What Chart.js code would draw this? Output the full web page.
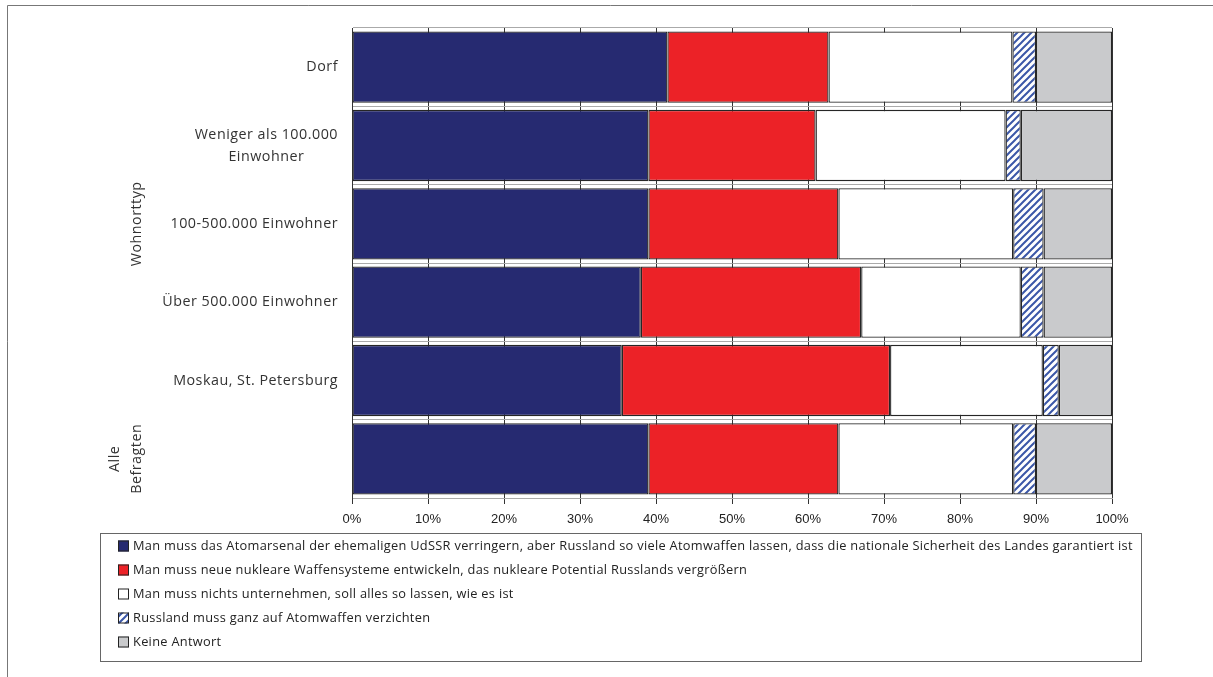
<!DOCTYPE html>
<html><head><meta charset="utf-8">
<script src="https://cdn.jsdelivr.net/npm/chart.js@4"></script>
<style>html,body{margin:0;padding:0;background:#fff}#wrap{position:relative;width:1213px;height:677px}</style>
</head><body><div id="wrap"><canvas id="c" width="1213" height="677"></canvas></div>
<script>
// ---- data ----
const categories = ['Dorf', ['Weniger als 100.000', 'Einwohner'], '100-500.000 Einwohner', 'Über 500.000 Einwohner', 'Moskau, St. Petersburg', ''];
const groupNames = [['Wohnorttyp'], ['Alle', 'Befragten']];
const groupFirst = [0, 5];
const groupLast = [4, 5];
const seriesNames = [
  'Man muss das Atomarsenal der ehemaligen UdSSR verringern, aber Russland so viele Atomwaffen lassen, dass die nationale Sicherheit des Landes garantiert ist',
  'Man muss neue nukleare Waffensysteme entwickeln, das nukleare Potential Russlands vergrößern',
  'Man muss nichts unternehmen, soll alles so lassen, wie es ist',
  'Russland muss ganz auf Atomwaffen verzichten',
  'Keine Antwort'
];
const verringern   = [41.5, 39, 39, 38, 35.5, 39];
const entwickeln   = [21.2, 22, 25, 29, 35.3, 25];
const nichts       = [24.2, 25, 23, 21, 20.1, 23];
const verzichten   = [3.1, 2, 4, 3, 2.1, 3];
const keineAntwort = [10, 12, 9, 9, 7, 10];
const xTickValues  = [0, 10, 20, 30, 40, 50, 60, 70, 80, 90, 100];

// ---- styles ----
function hatch() {
  const s = 7, c = document.createElement('canvas');
  c.width = c.height = s;
  const g = c.getContext('2d');
  g.fillStyle = '#fff'; g.fillRect(0, 0, s, s);
  g.strokeStyle = '#3b57a8'; g.lineWidth = 2;
  g.beginPath();
  g.moveTo(-1, s + 1); g.lineTo(s + 1, -1);
  g.moveTo(-1, 1); g.lineTo(1, -1);
  g.moveTo(s - 1, s + 1); g.lineTo(s + 1, s - 1);
  g.stroke();
  return g.createPattern(c, 'repeat');
}
const colors = ['#262a71', '#ec2227', '#ffffff', hatch(), '#c9cacc'];
const seriesData = [verringern, entwickeln, nichts, verzichten, keineAntwort];
const labelFont = '14.3px "Open Sans"';
const legendFont = '12.8px "Open Sans"';

const catLabels = {
  id: 'catLabels',
  afterDraw(chart) {
    const ctx = chart.ctx, y = chart.scales.y, left = chart.chartArea.left;
    ctx.save();
    ctx.font = labelFont; ctx.fillStyle = '#333'; ctx.textBaseline = 'middle'; ctx.textAlign = 'center';
    ctx.letterSpacing = '0.5px';
    categories.forEach((lab, i) => {
      const lines = Array.isArray(lab) ? lab : [lab];
      const cy = y.getPixelForValue(i);
      const maxW = Math.max(...lines.map(l => ctx.measureText(l).width));
      const cx = left - 14 - maxW / 2;
      lines.forEach((l, k) => ctx.fillText(l, cx, cy + (k - (lines.length - 1) / 2) * 22));
    });
    groupNames.forEach((lines, gi) => {
      const top = y.getPixelForValue(groupFirst[gi] - 0.5), bot = y.getPixelForValue(groupLast[gi] + 0.5);
      ctx.save();
      ctx.translate(137, (top + bot) / 2);
      ctx.rotate(-Math.PI / 2);
      lines.forEach((l, k) => ctx.fillText(l, 0, (k - (lines.length - 1)) * 22));
      ctx.restore();
    });
    ctx.restore();
  }
};

const boxLegend = {
  id: 'boxLegend',
  afterDraw(chart) {
    const ctx = chart.ctx;
    ctx.save();
    // outer frame
    ctx.strokeStyle = '#777'; ctx.lineWidth = 1;
    ctx.beginPath(); ctx.moveTo(7.5, 677); ctx.lineTo(7.5, 5.5); ctx.lineTo(1213, 5.5); ctx.stroke();
    // legend box
    ctx.strokeStyle = '#666';
    ctx.strokeRect(100.5, 533.5, 1041, 128);
    ctx.font = legendFont; ctx.textBaseline = 'middle'; ctx.textAlign = 'left';
    ctx.letterSpacing = '0.3px';
    chart.data.datasets.forEach((ds, i) => {
      const cy = 546 + i * 24;
      ctx.fillStyle = ds.backgroundColor;
      ctx.fillRect(118, cy - 5.5, 11, 11);
      ctx.strokeStyle = '#222'; ctx.lineWidth = 1;
      ctx.strokeRect(118.5, cy - 5, 10, 10);
      ctx.fillStyle = '#222';
      ctx.fillText(ds.label, 133, cy + 0.5);
    });
    ctx.restore();
  }
};

new Chart(document.getElementById('c'), {
  type: 'bar',
  data: {
    labels: categories,
    datasets: seriesNames.map((n, i) => ({
      label: n, data: seriesData[i], backgroundColor: colors[i],
      borderColor: '#262626', borderWidth: 1.3, borderSkipped: false,
      categoryPercentage: 0.91, barPercentage: 1
    }))
  },
  options: {
    indexAxis: 'y', responsive: false, animation: false,
    layout: { padding: { top: 28, right: 101, left: 0, bottom: 0 } },
    plugins: { legend: { display: false }, tooltip: { enabled: false } },
    scales: {
      x: {
        stacked: true, min: 0, max: 100,
        afterBuildTicks: s => { s.ticks = xTickValues.map(v => ({ value: v })); },
        afterFit: s => { s.height = 179; },
        ticks: { callback: v => v + '%', color: '#222', font: { family: 'Liberation Sans', size: 13 }, padding: 8, maxRotation: 0 },
        grid: { color: '#333', lineWidth: 1, tickLength: 6 },
        border: { display: true, color: '#aaa', width: 1 }
      },
      y: {
        stacked: true,
        afterFit: s => { s.width = 352; },
        ticks: { display: false },
        grid: { color: '#aaa', lineWidth: 1, drawTicks: false, offset: true },
        border: { display: true, color: '#333', width: 1 }
      }
    }
  },
  plugins: [catLabels, boxLegend]
});
</script></body></html>
